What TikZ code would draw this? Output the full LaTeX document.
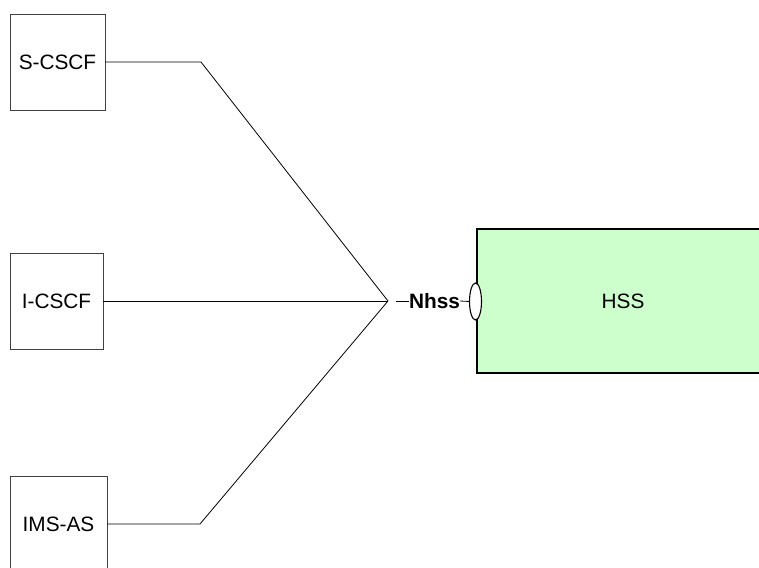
\documentclass[tikz,border=0pt]{standalone}
\usepackage{fontspec}
\setmainfont{Liberation Sans}
\usetikzlibrary{shapes.geometric}
\definecolor{hssgreen}{HTML}{CCFFCC}
\begin{document}
\begin{tikzpicture}[x=1pt,y=-1pt,
  box/.style={draw=black!75, line width=0.8pt, inner sep=0pt, outer sep=0pt,
              font=\fontsize{20.8}{24}\selectfont},
  conn/.style={draw=black, line width=0.8pt},
  lbl/.style={font=\bfseries\fontsize{20.8}{24}\selectfont, inner sep=0pt, outer sep=0pt},
  hssbox/.style={draw=black, line width=2.8pt, fill=hssgreen, inner sep=0pt, outer sep=0pt,
              font=\fontsize{20.8}{24}\selectfont},
  port/.style={ellipse, draw=black, line width=1.1pt, fill=white, inner sep=0pt, outer sep=0pt,
              minimum width=12pt, minimum height=37pt}]
\path[use as bounding box, fill=white] (0,0) rectangle (759,567);
\node[box, minimum width=95pt, minimum height=96pt] (scscf) at (57.5,62) {S-CSCF};
\node[box, minimum width=93pt, minimum height=96pt] (icscf) at (56.5,301) {I-CSCF};
\begin{scope}
  \clip (0,0) rectangle (759,567);
  \node[box, minimum width=97pt, minimum height=96pt] (imsas) at (58.5,524) {IMS-AS};
  \node[hssbox, minimum width=292pt, minimum height=144pt] (hss) at (623,301) {HSS};
\end{scope}
\coordinate (j) at (388,301);
\coordinate (nl) at (396,301);
\node[lbl] (nhss) at (434.5,301) {Nhss};
\node[port] (ell) at (475.5,301.5) {};
\draw[conn] (scscf.east) -- ++(96,0) -- (j);
\draw[conn] (icscf.east) -- (j);
\draw[conn] (imsas.east) -- ++(93,0) -- (j);
\draw[conn] (nl) -- (nhss.west);
\draw[conn] (nhss.east) -- (ell.west);
\end{tikzpicture}
\end{document}
